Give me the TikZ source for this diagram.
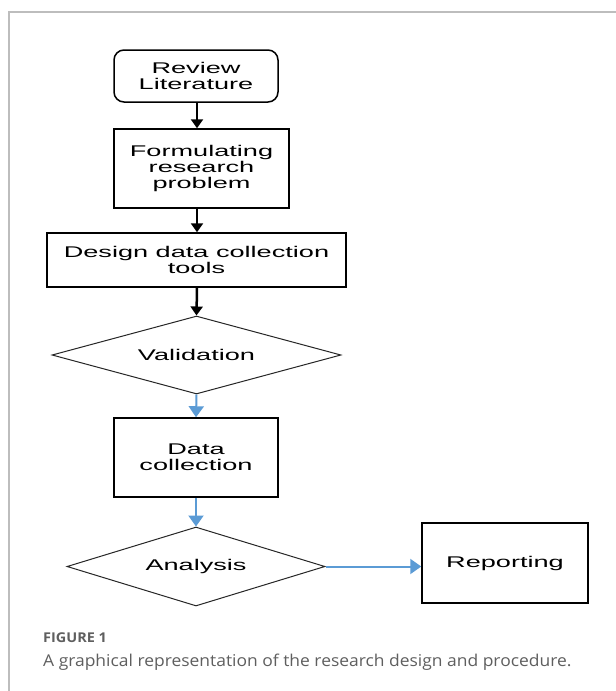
\documentclass[tikz,border=0pt]{standalone}
\usepackage{fontspec}
\setmainfont{Liberation Sans}
\newfontfamily\diagfont[FakeStretch=1.75]{Liberation Sans}
\newfontfamily\capfont[FakeStretch=1.07]{Open Sans}
\usetikzlibrary{shapes.geometric,arrows.meta}
\definecolor{framegray}{HTML}{BDBDBD}
\definecolor{arrowblue}{HTML}{5B9BD5}
\definecolor{captiongray}{HTML}{5F5F5F}
\begin{document}
\begin{tikzpicture}[x=1pt,y=-1pt,
  every node/.style={font=\diagfont\fontsize{15.5}{16}\selectfont, align=center, inner sep=0pt},
  procbox/.style={draw=black, line width=1.5pt, rectangle},
  roundbox/.style={draw=black, line width=1.5pt, rectangle, rounded corners=10pt},
  decision/.style={draw=black!85, line width=1pt, diamond, aspect=3.7},
  blackarrow/.style={draw=black, line width=2.5pt, -{Triangle[width=12pt,length=9pt]}},
  bluearrow/.style={draw=arrowblue, line width=2pt, -{Triangle[width=15pt,length=11pt]}}
]
\useasboundingbox (0,0) rectangle (616,691);
\fill[white] (0,0) rectangle (616,691);
\draw[framegray, line width=1.5pt] (9,691) -- (9,12) -- (616,12);

\node[roundbox, minimum width=164pt, minimum height=52pt] (rev) at (196,76) {Review\\Literature};
\node[procbox, minimum width=175pt, minimum height=79pt] (form) at (201.5,168.5) {Formulating\\research\\problem};
\node[procbox, minimum width=299pt, minimum height=54pt] (design) at (196.5,260) {Design data collection\\tools};
\node[decision, minimum width=289pt, minimum height=78pt] (valid) at (196.5,355) {Validation};
\node[procbox, minimum width=164pt, minimum height=79pt] (data) at (196,457.5) {Data\\collection};
\node[decision, minimum width=258pt, minimum height=79pt] (anal) at (196,566.5) {Analysis};
\node[procbox, minimum width=166pt, minimum height=80pt] (rep) at (505,563) {Reporting};

\draw[blackarrow] (rev.south -| 197,0) -- (form.north -| 197,0);
\draw[blackarrow] (form.south -| 197,0) -- (design.north -| 197,0);
\draw[blackarrow] (design.south -| 197,0) -- (valid.north);
\draw[bluearrow] (valid.south) -- (data.north);
\draw[bluearrow] (data.south) -- (anal.north);
\draw[bluearrow] (anal.east) -- (anal.east -| rep.west);

\node[anchor=base west, font=\capfont\bfseries\fontsize{13.5}{15}\selectfont, text=captiongray] (figlabel) at (43,642) {FIGURE 1};
\node[anchor=base west, font=\capfont\fontsize{16.3}{18}\selectfont, text=captiongray] (caption) at (43,666) {A graphical representation of the research design and procedure.};
\end{tikzpicture}
\end{document}
